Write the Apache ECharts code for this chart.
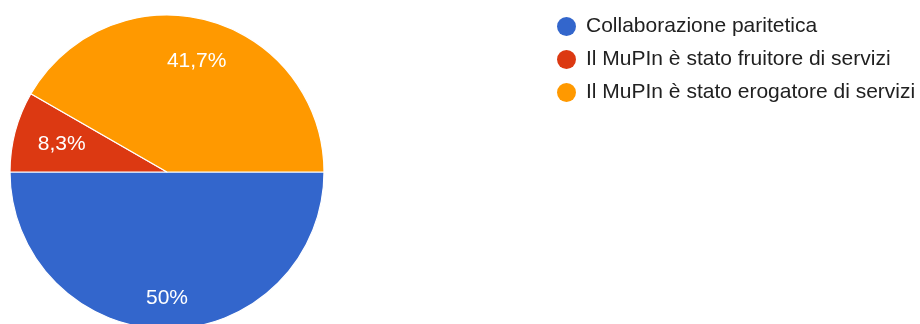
<!DOCTYPE html>
<html>
<head>
<meta charset="utf-8">
<script src="https://cdn.jsdelivr.net/npm/echarts@6/dist/echarts.min.js"></script>
<style>
  html, body { margin: 0; padding: 0; background: #ffffff; }
  #chart { width: 920px; height: 324px; }
</style>
</head>
<body>
<div id="chart"></div>
<script>
// Tipo di collaborazione (percentuali delle risposte)
const categories = [
  'Collaborazione paritetica',
  'Il MuPIn è stato fruitore di servizi',
  'Il MuPIn è stato erogatore di servizi'
];
const shares = [50, 8.3, 41.7];
const colors = ['#3366cc', '#dc3912', '#ff9900'];

const FONT = '"Liberation Sans", Arial, Helvetica, sans-serif';
const CENTER = [167, 172];
const R = 157;

const fmt = p => String(p.value).replace('.', ',') + '%';

// slices themselves
const sliceData = categories.map((name, i) => ({
  name, value: shares[i], itemStyle: { color: colors[i] }
}));

// transparent ring carrying one label at a chosen depth inside its slice
function labelRing(innerRadius, showIdx) {
  return {
    type: 'pie',
    silent: true,
    center: CENTER,
    radius: [innerRadius, R],
    startAngle: 0,
    clockwise: true,
    animation: false,
    itemStyle: { color: 'rgba(0,0,0,0)', borderWidth: 0 },
    label: {
      position: 'inside',
      formatter: fmt,
      color: '#ffffff',
      fontFamily: FONT,
      fontSize: 21
    },
    labelLine: { show: false },
    data: categories.map((name, i) => ({
      name, value: shares[i],
      label: { show: showIdx.includes(i) }
    }))
  };
}

const chart = echarts.init(document.getElementById('chart'), null, { renderer: 'canvas' });
chart.setOption({
  backgroundColor: '#ffffff',
  animation: false,
  legend: {
    orient: 'vertical',
    left: 552,
    top: 11,
    icon: 'circle',
    itemWidth: 19,
    itemHeight: 19,
    itemGap: 12,
    itemStyle: { borderWidth: 0 },
    textStyle: { fontFamily: FONT, fontSize: 21, color: '#212121', padding: [0, 0, 0, 5] },
    data: categories.map((name, i) => ({ name, itemStyle: { color: colors[i], borderWidth: 0 } }))
  },
  series: [
    {
      type: 'pie',
      center: CENTER,
      radius: [0, R],
      startAngle: 0,
      clockwise: true,
      animation: false,
      itemStyle: { borderColor: '#ffffff', borderWidth: 1.2 },
      label: { show: false },
      labelLine: { show: false },
      emphasis: { scale: false },
      data: sliceData
    },
    labelRing(89, [0]),
    labelRing(55, [1]),
    labelRing(67, [2])
  ]
});
</script>
</body>
</html>
